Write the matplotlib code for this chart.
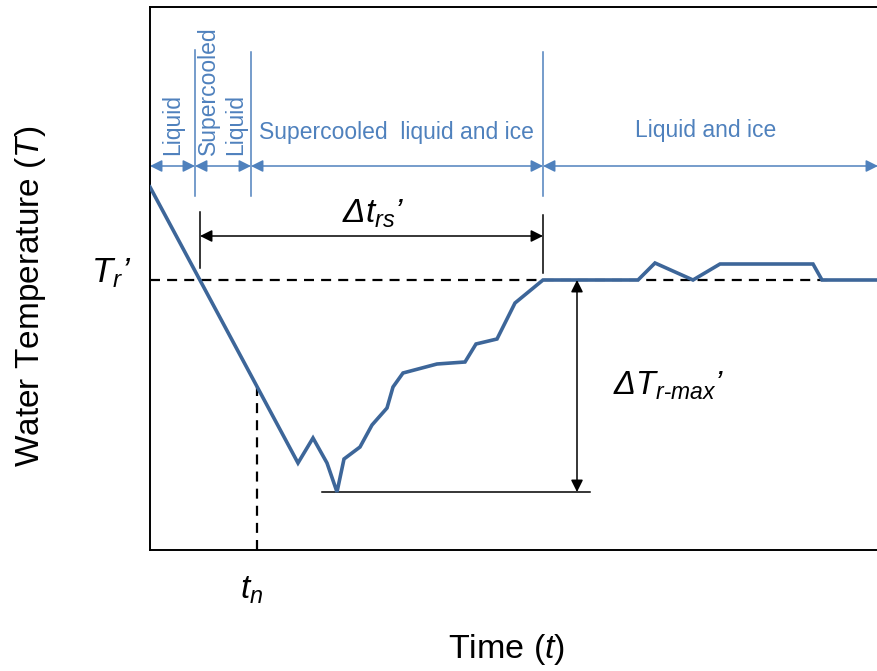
import matplotlib
matplotlib.use("Agg")
import matplotlib.pyplot as plt
import numpy as np

# cooling curve (time, water temperature) in arbitrary units
time = [0.0, 14.8, 16.3, 17.7, 18.7, 19.4, 21.0, 22.2, 23.7, 24.3, 25.3, 28.7,
        31.5, 32.6, 34.7, 36.5, 39.3, 48.8, 50.5, 54.3, 57.0, 66.3, 67.2, 73.5]
temp = [36.3, 8.7, 11.2, 8.7, 5.8, 9.1, 10.3, 12.5, 14.2, 16.3, 17.7, 18.6,
        18.8, 20.6, 21.1, 24.7, 27.0, 27.0, 28.7, 27.0, 28.6, 28.6, 27.0, 27.0]

# key points
T_r = 27.0          # recalescence temperature
t_n = 10.7          # nucleation time
t_cross = 5.0       # curve crosses T_r'
t_rs_end = 39.3     # curve returns to T_r'
T_min = 5.8

# phase regions along the top
phase_edges = [0.0, 4.5, 10.1, 39.3, 72.8]
phase_y = 38.4

blue = '#4f81bd'
curve_col = '#3d6699'

plt.rcParams['font.family'] = ['Liberation Sans', 'DejaVu Sans']
plt.rcParams['mathtext.fontset'] = 'custom'
plt.rcParams['mathtext.rm'] = 'Liberation Sans'
plt.rcParams['mathtext.it'] = 'Liberation Sans:italic'

fig = plt.figure(figsize=(8.78, 6.71), dpi=100)
ax = fig.add_axes([150/878, 121/671, 735/878, 543/671])
ax.set_xlim(0, 73.5)
ax.set_ylim(0, 54.3)
ax.set_xticks([])
ax.set_yticks([])
for s in ['left', 'top', 'bottom']:
    ax.spines[s].set_linewidth(1.4)
ax.spines['right'].set_visible(False)

# reference lines
ax.plot([0, 68], [T_r, T_r], color='k', lw=1.6, ls=(0, (4.5, 3.2)), zorder=2)
T_at_tn = np.interp(t_n, time, temp)
ax.plot([t_n, t_n], [0, T_at_tn], color='k', lw=1.6, ls=(0, (4.5, 3.2)), zorder=2)

# the curve
ax.plot(time, temp, color=curve_col, lw=2.6, zorder=3, solid_joinstyle='miter')

# phase boundaries and arrows
for x, top in zip(phase_edges[1:4], [50.0, 49.8, 49.8]):
    ax.plot([x, x], [35.4, top], color=blue, lw=1.1)
for a, b in zip(phase_edges[:-1], phase_edges[1:]):
    ax.annotate('', xy=(b, phase_y), xytext=(a, phase_y),
                arrowprops=dict(arrowstyle='<|-|>', color=blue, lw=1.1,
                                mutation_scale=18, shrinkA=0, shrinkB=0))

ax.text(2.3, 39.5, 'Liquid', rotation=90, ha='center', va='bottom', color=blue, fontsize=16.5)
ax.text(5.8, 39.5, 'Supercooled', rotation=90, ha='center', va='bottom', color=blue, fontsize=16.5)
ax.text(8.55, 39.5, 'Liquid', rotation=90, ha='center', va='bottom', color=blue, fontsize=16.5)
ax.text(24.65, 41.7, 'Supercooled  liquid and ice', ha='center', va='center', color=blue, fontsize=16.5)
ax.text(55.6, 41.9, 'Liquid and ice', ha='center', va='center', color=blue, fontsize=16.5)

# delta t_rs
ax.plot([t_cross, t_cross], [28.2, 33.8], color='k', lw=1.1)
ax.plot([t_rs_end, t_rs_end], [27.7, 33.5], color='k', lw=1.1)
ax.annotate('', xy=(t_rs_end, 31.4), xytext=(t_cross, 31.4),
            arrowprops=dict(arrowstyle='<|-|>', color='k', lw=1.1,
                            mutation_scale=18, shrinkA=0, shrinkB=0))
ax.text(19.2, 32.7, 'Δ$t_{rs}$’', fontstyle='italic', fontsize=24, ha='left', va='baseline')

# delta T_r-max
ax.plot([17.2, 44.0], [T_min, T_min], color='k', lw=1.1)
ax.annotate('', xy=(42.7, T_min), xytext=(42.7, T_r),
            arrowprops=dict(arrowstyle='<|-|>', color='k', lw=1.1,
                            mutation_scale=18, shrinkA=0, shrinkB=0))
ax.text(46.3, 15.5, r'Δ$T_{r\text{-}max}$’', fontstyle='italic', fontsize=23.5,
        ha='left', va='baseline')

# labels outside the axes
ax.text(-5.9, 26.8, '$T_r$’', fontstyle='italic', fontsize=25, ha='left', va='baseline', clip_on=False)
ax.text(9.0, -4.9, '$t_n$', fontsize=24, ha='left', va='baseline', clip_on=False)
ax.text(29.8, -10.8, 'Time ($t$)', fontsize=24.5, ha='left', va='baseline', clip_on=False)
fig.text(31/878, 1 - 296/671, 'Water Temperature ($T$)', rotation=90, fontsize=24,
         ha='center', va='center')

fig.savefig('out.png', dpi=100)
